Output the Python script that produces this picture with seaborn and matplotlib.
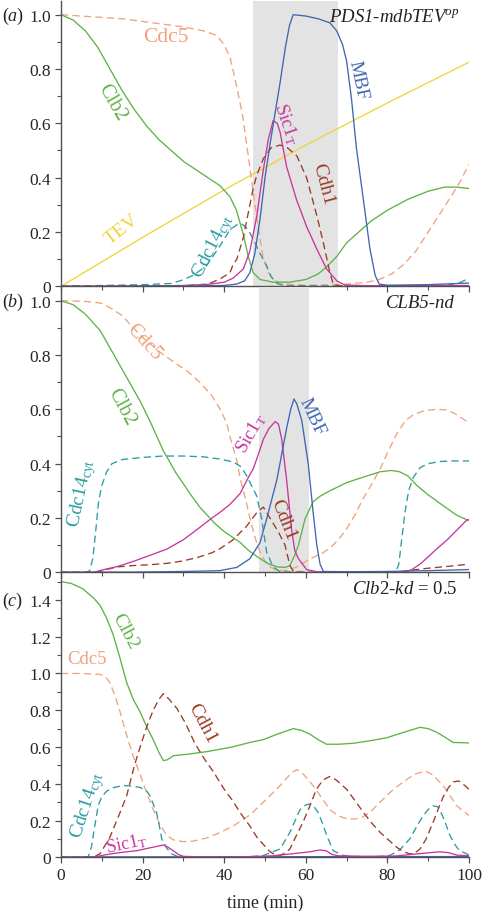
import matplotlib
matplotlib.use("Agg")
import matplotlib.pyplot as plt
import seaborn as sns
from matplotlib.ticker import MultipleLocator, FuncFormatter

# ---------------- data : panel (a) PDS1-mdbTEVop ----------------
A_CLB2_T = [0, 3, 6, 9, 12, 15, 18, 21, 24, 27, 30, 33, 36, 39, 41.4, 43, 44.7, 45.9, 47.1, 48.8, 52, 56, 60, 63, 65, 67.6, 70, 73, 76, 80, 85, 90, 94, 97, 100]
A_CLB2_V = [1.0, 0.98, 0.94, 0.88, 0.80, 0.72, 0.65, 0.59, 0.54, 0.50, 0.46, 0.43, 0.40, 0.37, 0.33, 0.28, 0.19, 0.11, 0.05, 0.025, 0.015, 0.015, 0.025, 0.045, 0.07, 0.11, 0.16, 0.20, 0.24, 0.28, 0.32, 0.35, 0.365, 0.365, 0.36]
A_CDC5_T = [0, 5, 10, 15, 20, 25, 30, 35, 38, 40, 41.5, 43, 44.5, 45.9, 46.8, 48.2, 49.5, 50.8, 52.5, 55, 60, 65, 70, 75, 78, 81, 84, 87, 90, 93, 96, 98, 100]
A_CDC5_V = [1.0, 0.995, 0.99, 0.985, 0.975, 0.965, 0.955, 0.94, 0.925, 0.89, 0.84, 0.74, 0.63, 0.48, 0.38, 0.23, 0.11, 0.05, 0.02, 0.008, 0.004, 0.005, 0.008, 0.015, 0.025, 0.045, 0.08, 0.13, 0.20, 0.27, 0.34, 0.39, 0.45]
A_TEV_T = [0, 20, 40, 60, 80, 100]
A_TEV_V = [0, 0.18, 0.355, 0.52, 0.675, 0.825]
A_MBF_T = [0, 30, 40, 43, 45, 46.3, 47.5, 48.8, 50, 51.2, 52.5, 53.7, 55, 56, 56.9, 60, 63, 65.9, 67.6, 69, 70, 71.2, 72.4, 74.1, 75.7, 77, 78, 80, 90, 100]
A_MBF_V = [0, 0.001, 0.003, 0.008, 0.02, 0.05, 0.12, 0.25, 0.40, 0.52, 0.64, 0.75, 0.88, 0.96, 1.0, 0.995, 0.985, 0.97, 0.94, 0.89, 0.83, 0.69, 0.51, 0.32, 0.14, 0.04, 0.008, 0.004, 0.006, 0.012]
A_SIC1_T = [0, 20, 30, 36, 40, 42.2, 44.7, 46.3, 48, 49.6, 50.8, 52, 53, 53.7, 55.3, 57.7, 60.2, 62.7, 65.1, 67.6, 69.5, 75, 100]
A_SIC1_V = [0, 0.001, 0.003, 0.007, 0.015, 0.03, 0.064, 0.13, 0.26, 0.43, 0.54, 0.61, 0.60, 0.567, 0.44, 0.32, 0.22, 0.137, 0.064, 0.02, 0.005, 0.002, 0.003]
A_CDH1_T = [0, 30, 36, 39, 41.4, 42.2, 43.1, 44.7, 45.5, 46.3, 47.1, 48, 49.6, 51.5, 53.7, 55.5, 57.8, 60.2, 62.7, 64.3, 65.9, 66.8, 70, 100]
A_CDH1_V = [0, 0.002, 0.008, 0.027, 0.05, 0.08, 0.10, 0.18, 0.24, 0.30, 0.36, 0.41, 0.47, 0.51, 0.52, 0.51, 0.48, 0.40, 0.26, 0.16, 0.05, 0.005, 0.0, 0.0]
A_CDC14_T = [0, 10, 20, 26.7, 29.2, 32.4, 35.7, 39, 41.5, 43.5, 44.5, 45.8, 47.1, 48.8, 50.4, 51.5, 53, 55, 90, 95, 98, 100]
A_CDC14_V = [0.0, 0.003, 0.006, 0.01, 0.02, 0.04, 0.076, 0.15, 0.21, 0.23, 0.228, 0.21, 0.174, 0.12, 0.076, 0.035, 0.01, 0.002, 0.0, 0.005, 0.015, 0.03]

# ---------------- data : panel (b) CLB5-nd ----------------
B_CLB2_T = [0, 3, 6, 9.6, 13, 16, 19.4, 22, 25, 28, 31.6, 34, 37.7, 40, 43.9, 46, 48.8, 51, 53, 55, 56.1, 57.2, 58.2, 59.8, 61.8, 63.5, 65.9, 70, 74, 78.2, 81, 83, 85, 87.2, 90, 93.7, 97, 100]
B_CLB2_V = [1.0, 0.985, 0.95, 0.89, 0.80, 0.72, 0.63, 0.55, 0.45, 0.37, 0.29, 0.24, 0.18, 0.15, 0.11, 0.08, 0.05, 0.03, 0.02, 0.018, 0.025, 0.06, 0.10, 0.196, 0.26, 0.28, 0.30, 0.33, 0.35, 0.37, 0.375, 0.37, 0.355, 0.32, 0.285, 0.245, 0.21, 0.19]
B_CDC5_T = [0, 5, 8, 10, 12.5, 15, 17.7, 20, 24.3, 28, 31, 34, 37, 39, 40.6, 41.4, 43.1, 44, 45.2, 46.3, 47.5, 48.8, 50, 51.2, 52.5, 54.5, 56, 57.8, 60, 61.8, 64, 66, 68, 70, 72, 74, 76, 78.2, 80, 82.3, 84.5, 86.4, 89, 92, 94.5, 96.5, 98, 100]
B_CDC5_V = [1.0, 0.998, 0.995, 0.99, 0.97, 0.945, 0.90, 0.865, 0.81, 0.77, 0.74, 0.70, 0.65, 0.60, 0.55, 0.50, 0.41, 0.34, 0.27, 0.20, 0.13, 0.074, 0.04, 0.02, 0.01, 0.005, 0.01, 0.02, 0.04, 0.055, 0.07, 0.09, 0.12, 0.16, 0.21, 0.27, 0.32, 0.38, 0.44, 0.51, 0.56, 0.58, 0.595, 0.60, 0.598, 0.585, 0.57, 0.55]
B_CDC14_T = [0, 6, 7, 7.8, 8.5, 9.2, 10, 11.2, 12.5, 15, 20, 25, 30, 35, 39, 42.2, 44, 45.5, 47, 48, 49.2, 50.4, 52, 53.7, 60, 82, 82.8, 83.5, 84.3, 85.2, 86.4, 88, 90, 93, 96, 100]
B_CDC14_V = [0, 0.0, 0.005, 0.05, 0.15, 0.26, 0.32, 0.37, 0.40, 0.415, 0.423, 0.428, 0.428, 0.425, 0.417, 0.406, 0.39, 0.356, 0.31, 0.28, 0.196, 0.074, 0.02, 0.002, 0.0, 0.0, 0.03, 0.12, 0.22, 0.30, 0.35, 0.385, 0.40, 0.408, 0.41, 0.41]
B_SIC1_T = [0, 8, 10, 12, 14, 17.7, 21, 25.9, 30, 34, 37, 38.9, 41.4, 43.9, 46.3, 47.1, 48.5, 49.6, 51, 52.5, 53.3, 54.1, 55.3, 56.5, 57.3, 58.2, 60.2, 62.7, 84, 86, 88, 89.8, 92, 94.7, 97, 99.3, 100]
B_SIC1_V = [0, 0.0, 0.008, 0.015, 0.022, 0.04, 0.058, 0.085, 0.12, 0.165, 0.20, 0.22, 0.25, 0.29, 0.36, 0.38, 0.44, 0.49, 0.53, 0.555, 0.545, 0.49, 0.34, 0.16, 0.08, 0.05, 0.01, 0.002, 0.0, 0.01, 0.03, 0.054, 0.085, 0.12, 0.155, 0.19, 0.195]
B_CDH1_T = [0, 9, 11, 14, 18, 22, 26, 30, 34, 37, 38.9, 42.2, 45.5, 48, 49.6, 51.2, 53.3, 54.9, 56.1, 57, 60, 80, 83, 86, 90, 95, 100]
B_CDH1_V = [0, 0.0, 0.01, 0.02, 0.025, 0.028, 0.033, 0.042, 0.057, 0.072, 0.086, 0.12, 0.17, 0.22, 0.24, 0.20, 0.148, 0.10, 0.025, 0.002, 0.0, 0.0, 0.002, 0.008, 0.015, 0.022, 0.03]
B_MBF_T = [0, 20, 30, 38.9, 43.1, 46.3, 48.8, 50.4, 52.9, 55.3, 56.3, 57.1, 57.8, 59, 60.6, 61.8, 62.7, 63.5, 64.3, 70, 80, 90, 100]
B_MBF_V = [0, 0.001, 0.003, 0.006, 0.018, 0.05, 0.11, 0.196, 0.34, 0.53, 0.60, 0.638, 0.62, 0.56, 0.40, 0.22, 0.10, 0.03, 0.003, 0.002, 0.003, 0.006, 0.01]

# ---------------- data : panel (c) Clb2-kd = 0.5 ----------------
C_CLB2_T = [0, 2.5, 5.4, 8, 9.6, 11.2, 12.8, 14.5, 16.1, 17.7, 19.4, 21, 22.6, 24, 25.1, 26, 27.6, 30.8, 35.8, 42, 46.3, 49.6, 53, 57, 59, 61, 63, 65.1, 68, 71.6, 76, 79.8, 84, 88, 90, 92.1, 94, 96.1, 100]
C_CLB2_V = [1.5, 1.49, 1.46, 1.41, 1.37, 1.30, 1.21, 1.08, 0.95, 0.86, 0.79, 0.71, 0.64, 0.57, 0.526, 0.53, 0.553, 0.56, 0.575, 0.60, 0.625, 0.64, 0.67, 0.70, 0.69, 0.67, 0.64, 0.615, 0.615, 0.62, 0.635, 0.65, 0.68, 0.707, 0.70, 0.68, 0.655, 0.625, 0.622]
C_CDC5_T = [0, 5, 9.6, 11, 12, 13.2, 14.5, 16, 17.7, 19.4, 21, 22.6, 24.2, 25.9, 27.5, 30, 32.4, 35.7, 38.5, 42.2, 46.3, 49.6, 53.7, 56.5, 57.8, 59.5, 61.8, 64, 65.9, 68, 70, 72, 74.1, 76, 78.2, 81, 83.9, 86.5, 89.2, 91, 93.7, 95.5, 97, 100]
C_CDC5_V = [1.0, 1.0, 0.995, 0.98, 0.95, 0.88, 0.79, 0.67, 0.55, 0.45, 0.35, 0.26, 0.18, 0.12, 0.095, 0.085, 0.088, 0.105, 0.13, 0.17, 0.23, 0.30, 0.39, 0.46, 0.477, 0.45, 0.39, 0.32, 0.26, 0.225, 0.21, 0.208, 0.22, 0.25, 0.30, 0.36, 0.41, 0.45, 0.47, 0.45, 0.39, 0.33, 0.28, 0.227]
C_CDC14_T = [0, 6, 6.7, 7.5, 7.9, 9.1, 10, 11.2, 13, 15.3, 17.5, 19.4, 21, 21.8, 23.4, 24.2, 24.7, 25.9, 27, 28.5, 30, 45, 49.6, 53.7, 56.1, 58.6, 60, 61, 62, 63, 64, 65.1, 66.7, 69.2, 72, 78, 80.6, 83, 85.5, 87.5, 88.8, 90, 91.2, 92.3, 92.8, 94, 95.3, 96.5, 97.7, 100]
C_CDC14_V = [0, 0.0, 0.005, 0.06, 0.118, 0.28, 0.33, 0.36, 0.38, 0.39, 0.387, 0.38, 0.36, 0.335, 0.245, 0.16, 0.10, 0.05, 0.02, 0.005, 0.0, 0.0, 0.01, 0.045, 0.136, 0.26, 0.285, 0.29, 0.275, 0.245, 0.19, 0.12, 0.036, 0.01, 0.004, 0.004, 0.01, 0.04, 0.10, 0.18, 0.227, 0.26, 0.28, 0.275, 0.26, 0.20, 0.12, 0.07, 0.036, 0.013]
C_CDH1_T = [0, 7.9, 9.6, 12, 14.5, 16.1, 18, 19.4, 21, 22.6, 24, 25.1, 26.5, 28.4, 30.5, 32.8, 35, 37.5, 40, 42, 44, 46.3, 48, 49.6, 51, 52.5, 53.7, 55, 56.1, 57.5, 59.3, 61, 62.6, 64.2, 65.9, 67.5, 70, 72, 74.1, 76, 78.2, 80, 82.3, 84, 85.5, 86.8, 88, 89.5, 91.2, 92.5, 93.7, 95, 96.1, 97.5, 99, 100]
C_CDH1_V = [0, 0.0, 0.02, 0.11, 0.245, 0.335, 0.50, 0.60, 0.71, 0.80, 0.86, 0.89, 0.86, 0.81, 0.73, 0.62, 0.54, 0.46, 0.37, 0.31, 0.24, 0.17, 0.11, 0.07, 0.035, 0.012, 0.01, 0.025, 0.045, 0.11, 0.19, 0.28, 0.37, 0.42, 0.44, 0.42, 0.37, 0.31, 0.245, 0.19, 0.136, 0.10, 0.054, 0.03, 0.018, 0.025, 0.045, 0.10, 0.19, 0.265, 0.33, 0.38, 0.41, 0.415, 0.39, 0.37]
C_SIC1_T = [0, 7.9, 10, 12, 15, 18.6, 21.5, 24.3, 25.1, 26.2, 27.5, 28.8, 30, 35, 45, 52, 57, 61, 63.5, 65, 66.5, 68, 75, 82, 88, 92.8, 95, 97, 100]
C_SIC1_V = [0, 0.0, 0.01, 0.018, 0.027, 0.036, 0.05, 0.063, 0.067, 0.055, 0.036, 0.015, 0.005, 0.002, 0.003, 0.008, 0.02, 0.03, 0.04, 0.035, 0.015, 0.008, 0.005, 0.007, 0.02, 0.03, 0.025, 0.012, 0.008]
C_MBF_T = [0, 50, 100]
C_MBF_V = [0.002, 0.003, 0.004]

SHADE_A = [47.0, 67.8]
SHADE_B = [48.6, 60.8]

# ---------------- style ----------------
sns.set_theme(style="ticks")
plt.rcParams["font.family"] = ["Liberation Serif", "DejaVu Serif"]
plt.rcParams["mathtext.fontset"] = "custom"
plt.rcParams["mathtext.rm"] = "Liberation Serif"
plt.rcParams["mathtext.it"] = "Liberation Serif:italic"
plt.rcParams["mathtext.bf"] = "Liberation Serif:bold"

COL = {
    "Clb2": "#5fb247",
    "Cdc5": "#f0a27c",
    "TEV": "#f0d43a",
    "Cdc14": "#2a9ca0",
    "Sic1": "#c8369c",
    "Cdh1": "#9a3a24",
    "MBF": "#3f66b1",
}
DASH = (0, (5.5, 3.2))
LW = 0.95
AXC = "#505050"

fig = plt.figure(figsize=(4.83, 9.12), dpi=100)
ax_a = fig.add_axes([0.1263, 0.6850, 0.8447, 0.3127])
ax_b = fig.add_axes([0.1263, 0.3714, 0.8447, 0.3127])
ax_c = fig.add_axes([0.1263, 0.0589, 0.8447, 0.3124])


def line(ax, t, v, key, dashed=False):
    kw = dict(x=t, y=v, ax=ax, color=COL[key], linewidth=LW, sort=False)
    if dashed:
        kw["linestyle"] = DASH
    sns.lineplot(**kw)


def fmt(v, pos):
    return "0" if abs(v) < 1e-9 else f"{v:.1f}"


def style_axis(ax, ytop, show_x):
    ax.set_xlim(0, 100)
    ax.set_ylim(0, ytop)
    for s in ("top", "right"):
        ax.spines[s].set_visible(False)
    for s in ("left", "bottom"):
        ax.spines[s].set_color(AXC)
        ax.spines[s].set_linewidth(1.0)
    ax.xaxis.set_major_locator(MultipleLocator(20))
    ax.xaxis.set_minor_locator(MultipleLocator(10))
    ax.yaxis.set_major_locator(MultipleLocator(0.2))
    ax.yaxis.set_minor_locator(MultipleLocator(0.1))
    ax.yaxis.set_major_formatter(FuncFormatter(fmt))
    ax.tick_params(which="major", direction="out", length=4, width=0.9, color=AXC,
                   labelsize=12.5, pad=3)
    ax.tick_params(which="minor", direction="out", length=3, width=0.8, color=AXC)
    ax.tick_params(axis="x", labelbottom=show_x)
    ax.set_xlabel("")
    ax.set_ylabel("")
    ax.patch.set_alpha(0)


# panel a
ax_a.axvspan(SHADE_A[0], SHADE_A[1], color="#e3e3e3", zorder=0, lw=0)
line(ax_a, A_TEV_T, A_TEV_V, "TEV")
line(ax_a, A_CDC5_T, A_CDC5_V, "Cdc5", dashed=True)
line(ax_a, A_CLB2_T, A_CLB2_V, "Clb2")
line(ax_a, A_CDC14_T, A_CDC14_V, "Cdc14", dashed=True)
line(ax_a, A_CDH1_T, A_CDH1_V, "Cdh1", dashed=True)
line(ax_a, A_SIC1_T, A_SIC1_V, "Sic1")
line(ax_a, A_MBF_T, A_MBF_V, "MBF")
style_axis(ax_a, 1.05, False)

# panel b
ax_b.axvspan(SHADE_B[0], SHADE_B[1], color="#e3e3e3", zorder=0, lw=0)
line(ax_b, B_CDC5_T, B_CDC5_V, "Cdc5", dashed=True)
line(ax_b, B_CLB2_T, B_CLB2_V, "Clb2")
line(ax_b, B_CDC14_T, B_CDC14_V, "Cdc14", dashed=True)
line(ax_b, B_CDH1_T, B_CDH1_V, "Cdh1", dashed=True)
line(ax_b, B_SIC1_T, B_SIC1_V, "Sic1")
line(ax_b, B_MBF_T, B_MBF_V, "MBF")
style_axis(ax_b, 1.05, False)

# panel c
line(ax_c, C_CDC5_T, C_CDC5_V, "Cdc5", dashed=True)
line(ax_c, C_CLB2_T, C_CLB2_V, "Clb2")
line(ax_c, C_CDC14_T, C_CDC14_V, "Cdc14", dashed=True)
line(ax_c, C_CDH1_T, C_CDH1_V, "Cdh1", dashed=True)
line(ax_c, C_MBF_T, C_MBF_V, "MBF")
line(ax_c, C_SIC1_T, C_SIC1_V, "Sic1")
style_axis(ax_c, 1.55, True)
ax_c.set_xticks([0, 20, 40, 60, 80, 100])
ax_c.set_xticklabels(["0", "20", "40", "60", "80", "100"])
ax_c.set_xlabel("time (min)", fontsize=13, labelpad=8)


def lab(ax, x, y, s, key, rot=0, size=14):
    ax.text(x, y, s, color=COL[key], rotation=rot, fontsize=size,
            ha="center", va="center", rotation_mode="anchor")


CYT = r"Cdc14$_{\mathrm{cyt}}$"
SIC = r"Sic1$_{\mathrm{T}}$"

# labels a
lab(ax_a, 25.7, 0.92, "Cdc5", "Cdc5", 0, 15.5)
lab(ax_a, 12.4, 0.68, "Clb2", "Clb2", -60, 14.5)
lab(ax_a, 14.9, 0.21, "TEV", "TEV", 38, 14)
lab(ax_a, 37.3, 0.15, CYT, "Cdc14", 63, 14)
lab(ax_a, 55.3, 0.60, SIC, "Sic1", -71, 13.5)
lab(ax_a, 64.3, 0.38, "Cdh1", "Cdh1", -75, 14)
lab(ax_a, 72.9, 0.76, "MBF", "MBF", -78, 13.5)
ax_a.text(97.8, 0.995, r"PDS1-mdbTEV$^{op}$", ha="right", va="center",
          fontsize=13.5, fontstyle="italic", color="#222222")

# labels b
lab(ax_b, 20.2, 0.85, "Cdc5", "Cdc5", -47, 14.5)
lab(ax_b, 14.9, 0.61, "Clb2", "Clb2", -62, 14.5)
lab(ax_b, 5.1, 0.295, CYT, "Cdc14", 78, 14)
lab(ax_b, 46.7, 0.515, SIC, "Sic1", 60, 13.5)
lab(ax_b, 61.4, 0.577, "MBF", "MBF", -65, 13.5)
lab(ax_b, 54.5, 0.196, "Cdh1", "Cdh1", -68, 14)
ax_b.text(96.6, 0.995, "CLB5-nd", ha="right", va="center",
          fontsize=13.5, fontstyle="italic", color="#222222")

# labels c
lab(ax_c, 15.7, 1.233, "Clb2", "Clb2", -62, 14)
lab(ax_c, 6.3, 1.079, "Cdc5", "Cdc5", 0, 13.5)
lab(ax_c, 34.5, 0.734, "Cdh1", "Cdh1", -62, 14)
lab(ax_c, 6.7, 0.29, CYT, "Cdc14", 72, 14)
lab(ax_c, 16.1, 0.075, SIC, "Sic1", 12, 13)
ax_c.text(97.1, 1.46, r"$\mathit{Clb2}$-$\mathit{kd}$$\,=\,$0.5", ha="right", va="center",
          fontsize=13.5, color="#222222")

# panel letters
for ytxt, letter in ((1 - 16 / 912, "a"), (1 - 302 / 912, "b"), (1 - 601 / 912, "c")):
    fig.text(2 / 483, ytxt, r"($\mathit{" + letter + r"}$)", ha="left", va="center",
             fontsize=13, color="#222222")

fig.savefig("out.png", dpi=100)
